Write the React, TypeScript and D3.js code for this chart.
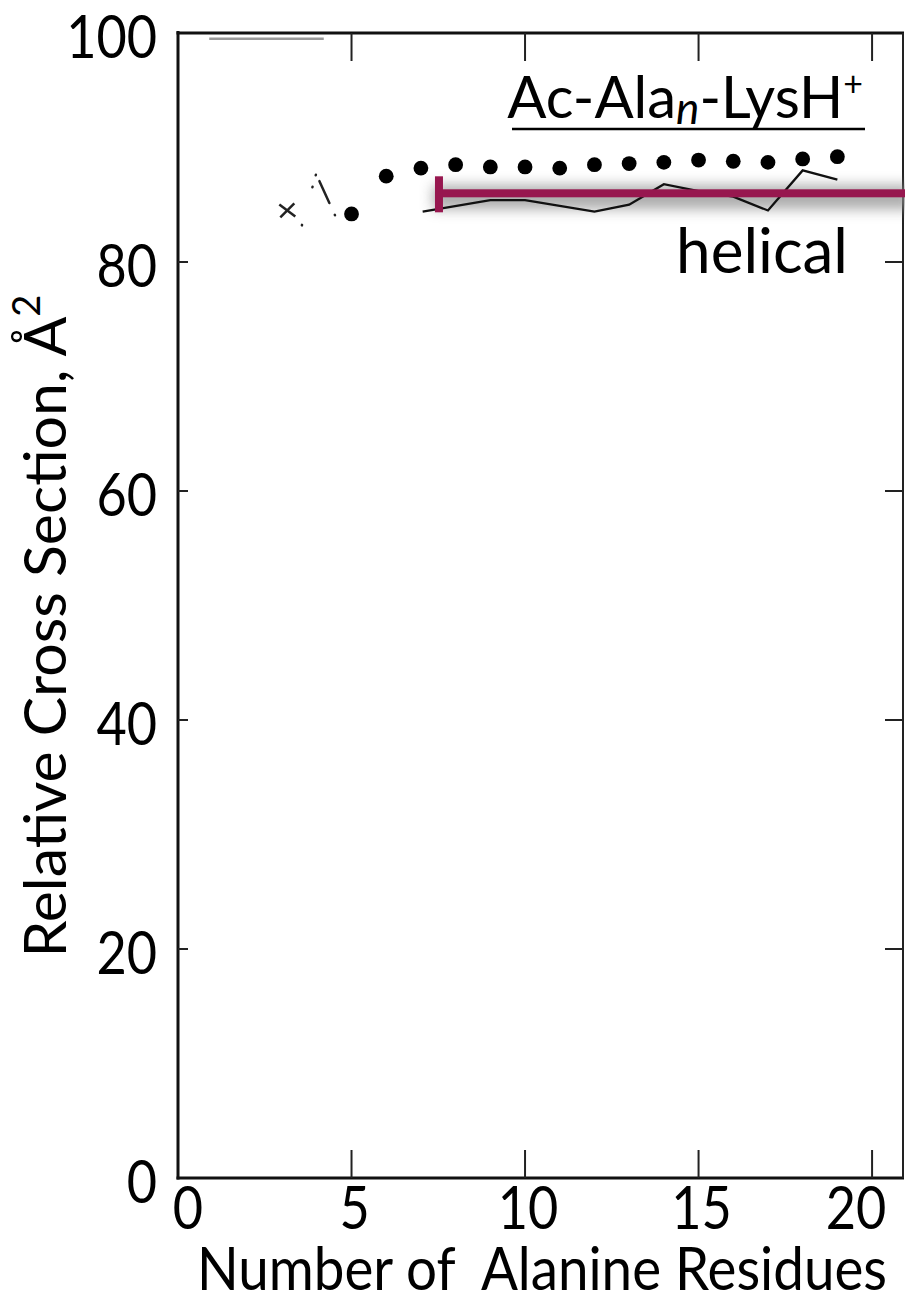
import React from "react";
import * as d3 from "d3";

// ---- data ----
const residues = [5, 6, 7, 8, 9, 10, 11, 12, 13, 14, 15, 16, 17, 18, 19];
const measured = [84.2, 87.5, 88.2, 88.5, 88.3, 88.3, 88.2, 88.5, 88.6, 88.7, 88.9, 88.8, 88.7, 89.0, 89.2];

const helixN = [7.05, 9, 10, 12, 13, 14, 15, 16, 17, 18, 19];
const helixCS = [84.4, 85.4, 85.4, 84.4, 85.0, 86.8, 86.2, 85.7, 84.5, 88.0, 87.2];

const crossN = [3.15];
const crossCS = [84.5];

const globN = [3.57, 3.98, 4.58];
const globCS = [83.2, 87.7, 83.7];

const helicalBandStart = 7.52;
const helicalBandEnd = 21.2;
const helicalBandValue = 86.0;

const xTicks = [0, 5, 10, 15, 20];
const yTicks = [0, 20, 40, 60, 80, 100];

const W = 905;
const H = 1297;
const FONT = "Lato, 'Open Sans', sans-serif";

export default function App() {
  const x = d3.scaleLinear().domain([0, 20.92]).range([178, 904]);
  const y = d3.scaleLinear().domain([0, 100]).range([1178, 33]);

  const line = d3
    .line<[number, number]>()
    .x((d) => x(d[0]))
    .y((d) => y(d[1]));

  const helixPath = line(helixN.map((n, i) => [n, helixCS[i]]) as [number, number][]) || "";
  const globPath = line(globN.map((n, i) => [n, globCS[i]]) as [number, number][]) || "";

  const x0 = x(0);
  const x1 = x.range()[1];
  const y0 = y(0);
  const y1 = y(100);
  const sx = 0.87; // condensed digits
  const barY = y(helicalBandValue);
  const barX = x(helicalBandStart);

  return (
    <svg
      width={W}
      height={H}
      style={{ position: "absolute", left: 0, top: 0, background: "#fff" }}
      fontFamily={FONT}
    >
      <defs>
        <filter id="blur" x="-20%" y="-300%" width="140%" height="700%">
          <feGaussianBlur stdDeviation="6.5" />
        </filter>
      </defs>
      <rect x={0} y={0} width={W} height={H} fill="#fff" />

      {/* faint artefact line near top */}
      <line x1={x(0.9)} x2={x(4.2)} y1={y(99.5)} y2={y(99.5)} stroke="#999" strokeWidth={2.5} />

      {/* frame */}
      <line x1={x0} x2={x0} y1={y1 - 2} y2={y0 + 1.5} stroke="#111" strokeWidth={3} />
      <line x1={x0 - 1.5} x2={x1} y1={y0} y2={y0} stroke="#111" strokeWidth={3} />
      <line x1={x0 - 1.5} x2={x1} y1={y1} y2={y1} stroke="#111" strokeWidth={3} />
      <line x1={x1 - 1} x2={x1 - 1} y1={y1} y2={y0} stroke="#222" strokeWidth={2} />

      {/* ticks */}
      {xTicks.filter((t) => t > 0).map((t) => (
        <g key={"xt" + t}>
          <line x1={x(t)} x2={x(t)} y1={y0} y2={y0 - 28} stroke="#222" strokeWidth={2} />
          <line x1={x(t)} x2={x(t)} y1={y1} y2={y1 + 28} stroke="#222" strokeWidth={2} />
        </g>
      ))}
      {yTicks.filter((t) => t > 0 && t < 100).map((t) => (
        <g key={"yt" + t}>
          <line x1={x0} x2={x0 + 10} y1={y(t)} y2={y(t)} stroke="#222" strokeWidth={2} />
          <line x1={x1} x2={x1 - 19} y1={y(t)} y2={y(t)} stroke="#222" strokeWidth={2} />
        </g>
      ))}

      {/* tick labels */}
      {yTicks.map((t) => (
        <text
          key={"yl" + t}
          transform={`translate(157, ${y(t) + 25}) scale(${sx}, 1)`}
          textAnchor="end"
          fontSize={60}
          fill="#000"
        >
          {t}
        </text>
      ))}
      {xTicks.map((t) => (
        <text
          key={"xl" + t}
          transform={`translate(${Math.min(x(t) + (t === 0 ? 10 : 3), 856)}, 1229) scale(${sx}, 1)`}
          textAnchor="middle"
          fontSize={60}
          fill="#000"
        >
          {t}
        </text>
      ))}

      {/* axis titles */}
      <text x={542} y={1290} textAnchor="middle" fontSize={60} fill="#000" textLength={690} lengthAdjust="spacingAndGlyphs">
        {"Number of\u00A0\u00A0Alanine Residues"}
      </text>
      <text transform={`translate(66, 626) rotate(-90)`} textAnchor="middle" fontSize={59} fill="#000">
        Relative Cross Section, Å
        <tspan fontSize={38} dy={-26}>2</tspan>
      </text>

      {/* helical bar shadow (beneath the data marks) */}
      <g filter="url(#blur)" opacity={0.7}>
        <rect
          x={barX - 6}
          y={barY - 8}
          width={x(helicalBandEnd) - barX + 6}
          height={24}
          fill="#8a8a8a"
        />
      </g>

      {/* glob dash-dot remnants */}
      <path
        d={globPath}
        fill="none"
        stroke="#222"
        strokeWidth={2.5}
        strokeLinecap="round"
        strokeDasharray="0.5 39 0.5 12 0.5 9 24 13 0.5 20"
      />
      {crossN.map((n, i) => (
        <g key={"cx" + i} transform={`translate(${x(n)},${y(crossCS[i])})`} stroke="#222" strokeWidth={2.5}>
          <line x1={-8} y1={-6} x2={8} y2={6} />
          <line x1={-7} y1={7} x2={7} y2={-7} />
        </g>
      ))}

      {/* helical theory line */}
      <path d={helixPath} fill="none" stroke="#111" strokeWidth={2.3} strokeLinejoin="miter" />

      {/* measured points */}
      {residues.map((n, i) => (
        <circle key={"pt" + n} cx={x(n)} cy={y(measured[i])} r={7.4} fill="#000" />
      ))}

      {/* helical bar */}
      <rect
        x={barX}
        y={barY - 4}
        width={x(helicalBandEnd) - barX}
        height={8}
        fill="#97174f"
      />
      <rect x={barX - 4} y={barY - 17} width={8} height={36} fill="#97174f" />

      {/* labels */}
      <text x={863} y={118} textAnchor="end" fontSize={58} fill="#000">
        Ac-Ala
        <tspan fontStyle="italic" fontSize={44} dy={6}>n</tspan>
        <tspan dy={-6}>-LysH</tspan>
        <tspan fontSize={34} dy={-22}>+</tspan>
      </text>
      <line x1={512} x2={865} y1={129} y2={129} stroke="#000" strokeWidth={2.5} />
      <text x={848} y={273} textAnchor="end" fontSize={62} fill="#000">
        helical
      </text>
    </svg>
  );
}
